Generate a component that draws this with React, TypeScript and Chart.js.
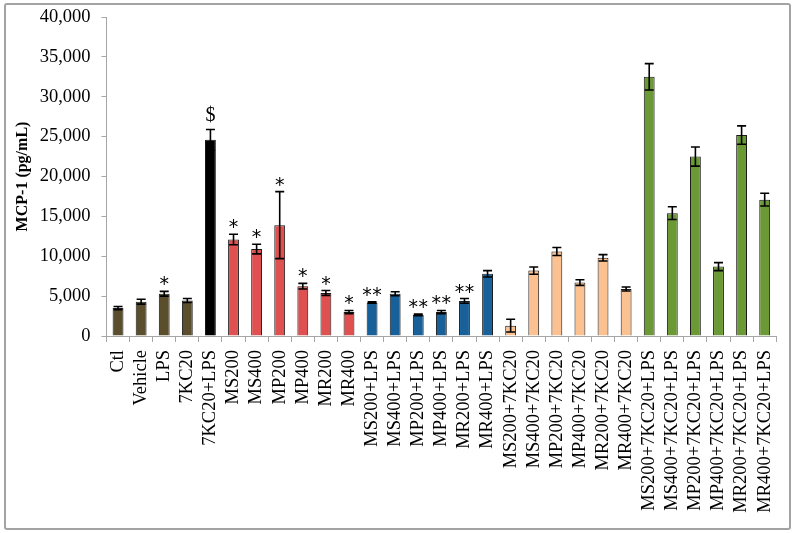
import React, { useEffect, useRef } from "react";
import { Chart, registerables } from "chart.js";

Chart.register(...registerables);

const categories = [
  "Ctl", "Vehicle", "LPS", "7KC20", "7KC20+LPS",
  "MS200", "MS400", "MP200", "MP400", "MR200", "MR400",
  "MS200+LPS", "MS400+LPS", "MP200+LPS", "MP400+LPS", "MR200+LPS", "MR400+LPS",
  "MS200+7KC20", "MS400+7KC20", "MP200+7KC20", "MP400+7KC20", "MR200+7KC20", "MR400+7KC20",
  "MS200+7KC20+LPS", "MS400+7KC20+LPS", "MP200+7KC20+LPS", "MP400+7KC20+LPS", "MR200+7KC20+LPS", "MR400+7KC20+LPS",
];

const values = [
  3500, 4300, 5300, 4450, 24600,
  12100, 10900, 13900, 6250, 5400, 3000,
  4200, 5300, 2650, 3000, 4400, 7800,
  1300, 8200, 10600, 6700, 9800, 5900,
  32500, 15400, 22500, 8700, 25200, 17100,
];

const errors = [
  200, 300, 300, 250, 1300,
  650, 600, 4200, 350, 300, 200,
  100, 250, 100, 200, 300, 400,
  800, 450, 500, 350, 400, 250,
  1650, 800, 1200, 500, 1150, 800,
];

const marks = [
  "", "", "*", "", "$",
  "*", "*", "*", "*", "*", "*",
  "**", "", "**", "**", "**", "",
  "", "", "", "", "", "",
  "", "", "", "", "", "",
];

const groupColors = ["#5a4e2c", "#000000", "#df5050", "#17609a", "#fbc190", "#6a9935"];
const groupOf = [
  0, 0, 0, 0, 1,
  2, 2, 2, 2, 2, 2,
  3, 3, 3, 3, 3, 3,
  4, 4, 4, 4, 4, 4,
  5, 5, 5, 5, 5, 5,
];

const yTicks = [0, 5000, 10000, 15000, 20000, 25000, 30000, 35000, 40000];

const errorBarPlugin = {
  id: "errorBars",
  afterDatasetsDraw(chart: any) {
    const ctx = chart.ctx;
    const meta = chart.getDatasetMeta(0);
    const y = chart.scales.y;
    ctx.save();
    ctx.strokeStyle = "#000";
    ctx.lineWidth = 1.6;
    meta.data.forEach((bar: any, i: number) => {
      const x = bar.x;
      const top = y.getPixelForValue(values[i] + errors[i]);
      const bot = y.getPixelForValue(values[i] - errors[i]);
      ctx.beginPath();
      ctx.moveTo(x, top);
      ctx.lineTo(x, bot);
      ctx.moveTo(x - 4.5, top);
      ctx.lineTo(x + 4.5, top);
      ctx.moveTo(x - 4.5, bot);
      ctx.lineTo(x + 4.5, bot);
      ctx.stroke();
      const m = marks[i];
      if (m) {
        ctx.fillStyle = "#000";
        ctx.textAlign = "center";
        ctx.textBaseline = "alphabetic";
        if (m === "$") {
          ctx.font = "20px 'Liberation Serif'";
          ctx.fillText("$", x, top - 8);
        } else {
          ctx.font = "19px 'DejaVu Sans'";
          if (m === "**") {
            ctx.fillText("*", x - 5, top - 1);
            ctx.fillText("*", x + 5, top - 1);
          } else {
            ctx.fillText("*", x, top - 1);
          }
        }
      }
    });
    ctx.restore();
  },
};

export default function App() {
  const ref = useRef<HTMLCanvasElement>(null);
  useEffect(() => {
    if (!ref.current) return;
    const chart = new Chart(ref.current, {
      type: "bar",
      data: {
        labels: categories,
        datasets: [
          {
            data: values,
            backgroundColor: groupOf.map((g) => groupColors[g]),
            borderColor: "#1a1a1a",
            borderWidth: 1,
            barPercentage: 0.47,
            categoryPercentage: 1,
          },
        ],
      },
      options: {
        animation: false,
        responsive: false,
        maintainAspectRatio: false,
        layout: { padding: { left: 0, right: 6.5, top: 17, bottom: 0 } },
        plugins: { legend: { display: false }, tooltip: { enabled: false } },
        scales: {
          x: {
            grid: {
              offset: true,
              drawOnChartArea: false,
              drawTicks: true,
              tickLength: 6,
              color: "#a6a6a6",
            },
            border: { color: "#a6a6a6", width: 1 },
            ticks: {
              autoSkip: false,
              minRotation: 90,
              maxRotation: 90,
              padding: 8,
              color: "#000",
              font: { family: "'Liberation Serif'", size: 18.5 },
            },
            afterFit(scale: any) {
              scale.height = 197;
            },
          },
          y: {
            min: 0,
            max: 40000,
            afterBuildTicks(scale: any) {
              scale.ticks = yTicks.map((v) => ({ value: v }));
            },
            grid: {
              drawOnChartArea: false,
              drawTicks: true,
              tickLength: 5,
              color: "#a6a6a6",
            },
            border: { color: "#a6a6a6", width: 1 },
            ticks: {
              color: "#000",
              padding: 11,
              font: { family: "'Liberation Serif'", size: 18.5 },
              callback: (v: any) => Number(v).toLocaleString("en-US"),
            },
            title: {
              display: true,
              text: "MCP-1 (pg/mL)",
              color: "#000",
              padding: { top: 13, bottom: 0 },
              font: { family: "'Liberation Serif'", size: 16, weight: "bold" },
            },
            afterFit(scale: any) {
              scale.width = 106.5;
              scale.paddingTop = 0;
              scale.paddingBottom = 0;
            },
          },
        },
      },
      plugins: [errorBarPlugin],
    });
    return () => chart.destroy();
  }, []);
  return (
    <div style={{ position: "fixed", left: 0, top: 0, width: 795, height: 533, background: "#fff" }}>
      <canvas ref={ref} width={795} height={533} style={{ position: "absolute", left: 0, top: 0 }} />
      <div
        style={{
          position: "absolute",
          left: 4,
          top: 3,
          width: 783,
          height: 523,
          border: "2px solid #a3a3a3",
          borderRadius: 3,
          pointerEvents: "none",
        }}
      />
    </div>
  );
}
